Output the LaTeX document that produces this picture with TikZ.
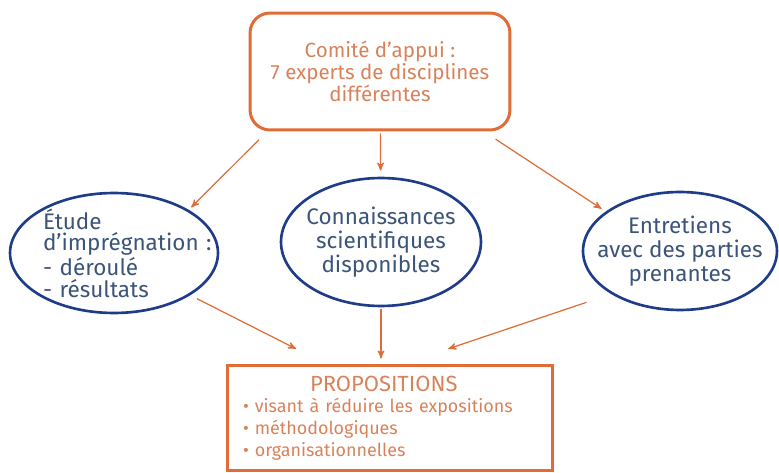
\documentclass[tikz,border=0pt]{standalone}
\usepackage{fontspec}
\setmainfont{Fira Sans}
\usetikzlibrary{arrows}
\usetikzlibrary{shapes.geometric}
\definecolor{orangeB}{HTML}{E06C38}
\definecolor{orangeT}{HTML}{D8825A}
\definecolor{bleuB}{HTML}{1F3C88}
\definecolor{bleuT}{HTML}{3B5478}
\tikzset{cadre/.style = {draw = orangeB, line width = 1.7pt, text = orangeT, inner sep = 0}}
\tikzset{bulle/.style = {ellipse, draw = bleuB, line width = 1.5pt, text = bleuT, inner sep = -20pt, align = center, font = \fontsize{12.8}{13.6}\selectfont}}
\tikzset{fleche/.style = {draw = orangeB, line width = 0.7pt, -stealth'}}

\begin{document}
\begin{tikzpicture}[x = 0.02cm, y = -0.02cm]
      \useasboundingbox (0, 0) rectangle (779, 473);

      \node[cadre, rounded corners = 0.4cm, minimum width = 5.2cm, minimum height = 2.34cm, align = center, font = \fontsize{11.7}{12.4}\selectfont] (comite) at (380, 71.5) {Comité d’appui :\\7 experts de disciplines\\différentes};

      \node[bulle, minimum width = 4.16cm, minimum height = 2.4cm, text width = 2.84cm, align = left, font = \fontsize{12.8}{12.4}\selectfont] (etude) at (114, 253) {Étude\\\mbox{d’imprégnation :}\\- déroulé\\- résultats};
      \node[bulle, minimum width = 4cm, minimum height = 2.56cm] (savoirs) at (381, 242) {Connaissances\\scientifiques\\disponibles};
      \node[bulle, minimum width = 3.88cm, minimum height = 2.36cm] (entretiens) at (680, 251) {Entretiens\\avec des parties\\prenantes};

      \node[cadre, minimum width = 6.52cm, minimum height = 2.12cm, text width = 5.88cm, align = left, font = \fontsize{10.2}{12.4}\selectfont] (propositions) at (390, 418) {\hspace*{1.34cm}{\fontsize{12.5}{12.4}\selectfont PROPOSITIONS}\\\textbullet~visant à réduire les expositions\\\textbullet~méthodologiques\\\textbullet~organisationnelles};

      \draw[fleche, shorten <= 0.23cm, shorten >= 0.07cm] (comite.208.2) -- (etude.30.1);
      \draw[fleche, shorten <= 0.04cm, shorten >= 0.12cm] (comite) -- (savoirs);
      \draw[fleche, shorten <= 0.28cm, shorten >= 0.1cm] (comite.330.9) -- (entretiens.152.8);

      \draw[fleche, shorten <= 0.15cm, shorten >= 0.65cm] (etude.331.6) -- (propositions.140.5);
      \draw[fleche, shorten <= 0.04cm, shorten >= 0.1cm] (savoirs.south) -- (savoirs.south |- propositions.north);
      \draw[fleche, shorten <= 0.52cm, shorten >= 0.92cm] (entretiens.212.3) -- (propositions.75);
    \end{tikzpicture}
\end{document}
